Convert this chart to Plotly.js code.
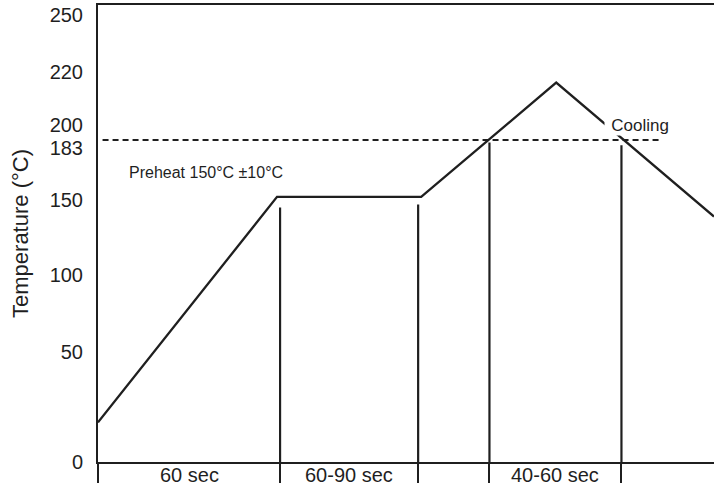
<!DOCTYPE html>
<html>
<head>
<meta charset="utf-8">
<script src="https://cdn.plot.ly/plotly-3.0.1.min.js"></script>
<style>
  html, body { margin: 0; padding: 0; background: #ffffff; }
  #chart { width: 714px; height: 488px; }
</style>
</head>
<body>
<div id="chart"></div>
<script>
// ---- data ----
// temperature axis labels (°C)
const tempTicks = [0, 50, 100, 150, 183, 200, 220, 250];
// reflow profile: time (s) and temperature (°C)
const profileTime = [0, 59, 106.5, 151, 203];
const profileTemp = [18, 152, 152, 216, 139];
// liquidus (dashed) line
const liquidusTime = [1.5, 185.5];
const liquidusTemp = [189, 189];
// zone boundaries (s) and height of the boundary markers (°C)
const zoneBounds = [0, 60, 105.5, 129, 172.5];
const markerTime = [60, 105.5, 129, 172.5];
const markerTop = [145, 147, 187, 185];
// zone labels, one per interval between boundaries
const zoneLabels = ["60 sec", "60-90 sec", "", "40-60 sec"];
const preheatText = "Preheat 150\u00b0C \u00b110\u00b0C";
const coolingText = "Cooling";

// ---- the schematic temperature axis is not linear: place the labels
// where the drawing puts them and interpolate between them ----
const tickDisplay = [0, 110, 187, 262, 314, 337, 390, 447];
function warp(t) {
  for (let i = 1; i < tempTicks.length; i++) {
    if (t <= tempTicks[i] || i === tempTicks.length - 1) {
      const a = tempTicks[i - 1], b = tempTicks[i];
      const p = tickDisplay[i - 1], q = tickDisplay[i];
      return p + (t - a) / (b - a) * (q - p);
    }
  }
}

const ink = '#1f1f1f';
const fontFam = '"Liberation Sans", Arial, Helvetica, sans-serif';

// boundary markers as one trace with gaps
const mx = [], my = [];
markerTime.forEach((t, i) => {
  mx.push(t, t, null);
  my.push(warp(0), warp(markerTop[i]), null);
});

const traces = [
  {
    x: mx, y: my, mode: 'lines', type: 'scatter',
    line: { color: ink, width: 2.2 }, hoverinfo: 'skip', showlegend: false
  },
  {
    x: liquidusTime, y: liquidusTemp.map(warp), mode: 'lines', type: 'scatter',
    line: { color: ink, width: 2, dash: '6px,4px' }, hoverinfo: 'skip', showlegend: false
  },
  {
    x: profileTime, y: profileTemp.map(warp), mode: 'lines', type: 'scatter',
    line: { color: ink, width: 2.3 }, hoverinfo: 'skip', showlegend: false
  }
];

const annotations = [];
zoneLabels.forEach((txt, i) => {
  if (!txt) return;
  annotations.push({
    x: (zoneBounds[i] + zoneBounds[i + 1]) / 2, xref: 'x',
    y: -0.028, yref: 'paper', xanchor: 'center', yanchor: 'middle',
    text: txt, showarrow: false,
    font: { family: fontFam, size: 20, color: ink }
  });
});
annotations.push({
  x: 0.176, xref: 'paper', y: 0.633, yref: 'paper',
  xanchor: 'center', yanchor: 'middle', text: preheatText, showarrow: false,
  font: { family: fontFam, size: 16, color: ink }
});
annotations.push({
  x: 0.928, xref: 'paper', y: 0.737, yref: 'paper',
  xanchor: 'right', yanchor: 'middle', text: coolingText, showarrow: false,
  width: 64, align: 'right', bgcolor: '#ffffff', borderpad: 0,
  font: { family: fontFam, size: 17, color: ink }
});

const layout = {
  width: 714, height: 488,
  margin: { l: 98, r: 0, t: 5, b: 26, pad: 0 },
  paper_bgcolor: '#ffffff', plot_bgcolor: '#ffffff',
  font: { family: fontFam, color: ink },
  showlegend: false,
  xaxis: {
    range: [0, 203], showgrid: false, zeroline: false,
    showline: true, linecolor: ink, linewidth: 2, mirror: true,
    ticks: 'outside', ticklen: 19, tickwidth: 2, tickcolor: ink,
    tickvals: zoneBounds, showticklabels: false, fixedrange: true
  },
  yaxis: {
    range: [0, 457], showgrid: false, zeroline: false,
    showline: true, linecolor: ink, linewidth: 2, mirror: false,
    ticks: '', tickvals: tempTicks.map(warp), ticktext: tempTicks.map(String),
    tickfont: { family: fontFam, size: 20, color: ink },
    ticklabelstandoff: 9,
    title: { text: 'Temperature (\u00b0C)', font: { family: fontFam, size: 22, color: ink }, standoff: 15 },
    fixedrange: true
  },
  annotations: annotations
};

Plotly.newPlot('chart', traces, layout, { staticPlot: true, displayModeBar: false });
</script>
</body>
</html>
